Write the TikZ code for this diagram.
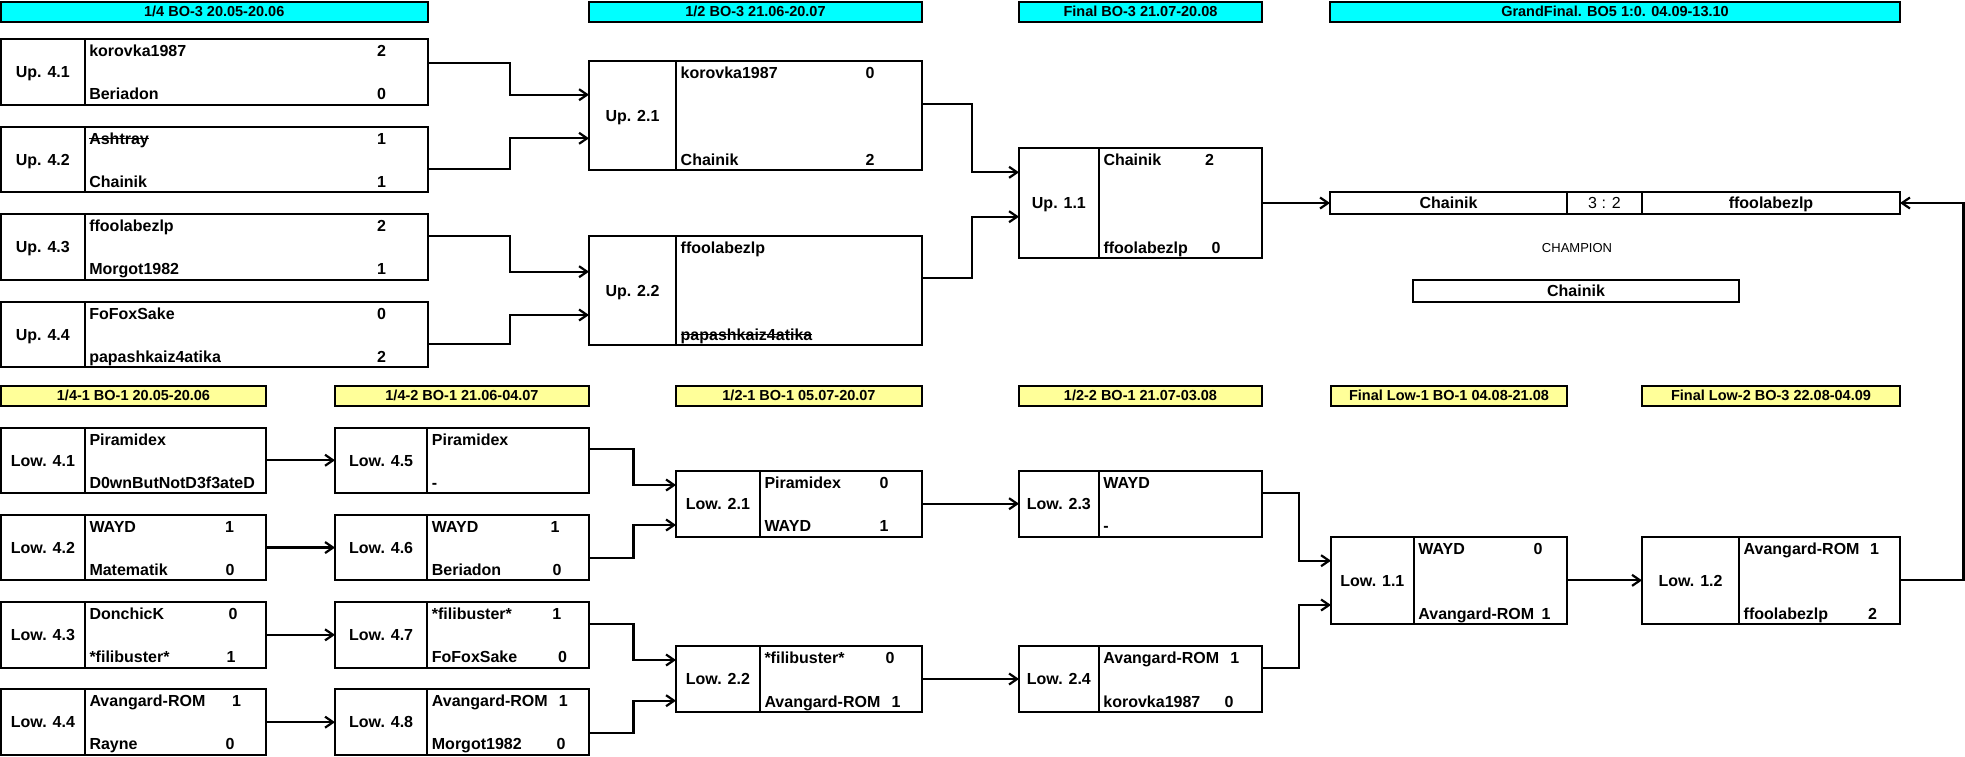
\documentclass[tikz,border=0pt]{standalone}
\usepackage{fontspec}
\setmainfont[Ligatures=CommonOff]{Liberation Sans}
\usetikzlibrary{arrows.meta}
\definecolor{hcyan}{RGB}{0,255,255}
\definecolor{hyellow}{RGB}{255,255,153}
\newcommand\nmfont{\fontsize{16}{19}\selectfont\bfseries}
\newcommand\hdfont{\fontsize{14.5}{17}\selectfont\bfseries}
\newcommand\strikename[1]{\setbox0=\hbox{#1}\rlap{\copy0}\rule[0.3em]{\wd0}{1.3pt}}
\tikzset{
  gbox/.style={draw, line width=2pt, inner sep=0pt, outer sep=0pt},
  gline/.style={line width=2pt},
  lbl/.style={font=\nmfont, inner sep=0pt, text height=11.5pt, text depth=0pt},
  nm/.style={font=\nmfont, inner sep=0pt},
  hdrbox/.style={draw, line width=2pt, inner sep=0pt, outer sep=0pt, font=\hdfont, text height=10.4pt, text depth=0pt},
  conn/.style={line width=2.2pt, -{Straight Barb[length=8pt,width=11pt]}},
}
\newcommand\game[7]{%
  \def\gname{#1}\def\gtop{#3}\def\gbot{#5}\def\gdiv{#6}%
  \node[gbox, minimum width={#4-#2}, minimum height={#5-#3}] (#1) at ({(#2+#4)/2},{(#3+#5)/2}) {};
  \draw[gline] (#6,#3) -- (#6,#5);
  \node[lbl] (#1-l) at ({(#2+#6)/2},{(#3+#5)/2}) {#7};
}
\newcommand\names[2]{%
  \node[nm, anchor=base west] (\gname-a) at (\gdiv+4.5, \gtop+17.5) {#1};
  \node[nm, anchor=base west] (\gname-b) at (\gdiv+4.5, \gbot-5) {#2};
}
\newcommand\scores[4]{%
  \node[nm, anchor=base] (\gname-sa) at (#1, \gtop+17.5) {#2};
  \node[nm, anchor=base] (\gname-sb) at (#3, \gbot-5) {#4};
}
\newcommand\link[5]{\draw[conn] (#1.east |- 0,#2) -| (#3,#4) -- (#5.west |- 0,#4);}
\newcommand\header[7]{%
  \node[hdrbox, fill=#2, minimum width={#4-#3}, minimum height={#6-#5}] (#1) at ({(#3+#4)/2},{(#5+#6)/2}) {#7};
}
\begin{document}
\begin{tikzpicture}[x=1pt,y=-1pt]
\useasboundingbox (0,0) rectangle (1965,756);
% ---------- upper headers
\header{h1}{hcyan}{1}{427.5}{1.5}{21.5}{1/4 BO-3 20.05-20.06}
\header{h2}{hcyan}{589}{922}{1.5}{21.5}{1/2 BO-3 21.06-20.07}
\header{h3}{hcyan}{1019}{1262}{1.5}{21.5}{Final BO-3 21.07-20.08}
\header{h4}{hcyan}{1330}{1900}{1.5}{21.5}{GrandFinal. BO5 1:0. 04.09-13.10}
% ---------- upper bracket
\game{u41}{1}{39}{427.5}{104.5}{84.6}{Up. 4.1}
\names{korovka1987}{Beriadon}\scores{381.5}{2}{381.5}{0}
\game{u42}{1}{126.5}{427.5}{192}{84.6}{Up. 4.2}
\names{\strikename{Ashtray}}{Chainik}\scores{381.5}{1}{381.5}{1}
\game{u43}{1}{214}{427.5}{279.5}{84.6}{Up. 4.3}
\names{ffoolabezlp}{Morgot1982}\scores{381.5}{2}{381.5}{1}
\game{u44}{1}{301.5}{427.5}{367}{84.6}{Up. 4.4}
\names{FoFoxSake}{papashkaiz4atika}\scores{381.5}{0}{381.5}{2}

\game{u21}{589}{61}{922}{170}{676}{Up. 2.1}
\names{korovka1987}{Chainik}\scores{870}{0}{870}{2}
\game{u22}{589}{236}{922}{345}{676}{Up. 2.2}
\names{ffoolabezlp}{\strikename{papashkaiz4atika}}

\game{u11}{1019}{148}{1262}{258}{1098.8}{Up. 1.1}
\names{Chainik}{ffoolabezlp}\scores{1209.5}{2}{1216}{0}

\link{u41}{62.7}{510}{94.7}{u21}
\link{u42}{169}{510}{138.3}{u21}
\link{u43}{236.3}{510}{271.7}{u22}
\link{u44}{344.3}{510}{315}{u22}
\link{u21}{104.3}{972}{172.3}{u11}
\link{u22}{278.3}{972}{216.7}{u11}

% ---------- grand final
\node[gbox, minimum width=570, minimum height=22] (gf) at (1615,203) {};
\draw[gline] (1567,192) -- (1567,214);
\draw[gline] (1642,192) -- (1642,214);
\node[lbl] (gf-a) at (1448.5,203) {Chainik};
\node[lbl, font=\fontsize{16}{19}\selectfont] (gf-s) at (1604.5,203) {3 : 2};
\node[lbl] (gf-b) at (1771,203) {ffoolabezlp};
\draw[conn] (u11.east) -- (gf.west);
\node[inner sep=0pt, font=\fontsize{13}{15}\selectfont, text height=9.3pt, text depth=0pt] (champ-t) at (1577,248.3) {CHAMPION};
\node[gbox, lbl, minimum width=326, minimum height=22] (champ) at (1576,291) {Chainik};

% ---------- lower headers
\header{y1}{hyellow}{1}{266}{385.5}{405.5}{1/4-1 BO-1 20.05-20.06}
\header{y2}{hyellow}{335}{589}{385.5}{405.5}{1/4-2 BO-1 21.06-04.07}
\header{y3}{hyellow}{676}{922}{385.5}{405.5}{1/2-1 BO-1 05.07-20.07}
\header{y4}{hyellow}{1019}{1262}{385.5}{405.5}{1/2-2 BO-1 21.07-03.08}
\header{y5}{hyellow}{1331}{1567}{385.5}{405.5}{Final Low-1 BO-1 04.08-21.08}
\header{y6}{hyellow}{1642}{1900}{385.5}{405.5}{Final Low-2 BO-3 22.08-04.09}

% ---------- lower bracket
\game{l41}{1}{427.5}{266}{493}{84.8}{Low. 4.1}
\names{Piramidex}{D0wnButNotD3f3ateD}
\game{l42}{1}{514.8}{266}{580.3}{84.8}{Low. 4.2}
\names{WAYD}{Matematik}\scores{229.5}{1}{230}{0}
\game{l43}{1}{602.1}{266}{667.6}{84.8}{Low. 4.3}
\names{DonchicK}{*filibuster*}\scores{233}{0}{231}{1}
\game{l44}{1}{689.4}{266}{754.9}{84.8}{Low. 4.4}
\names{Avangard-ROM}{Rayne}\scores{236.6}{1}{230}{0}

\game{l45}{335}{427.5}{589}{493}{427.2}{Low. 4.5}
\names{Piramidex}{-}
\game{l46}{335}{514.8}{589}{580.3}{427.2}{Low. 4.6}
\names{WAYD}{Beriadon}\scores{555}{1}{557}{0}
\game{l47}{335}{602.1}{589}{667.6}{427.2}{Low. 4.7}
\names{*filibuster*}{FoFoxSake}\scores{556.7}{1}{562.5}{0}
\game{l48}{335}{689.4}{589}{754.9}{427.2}{Low. 4.8}
\names{Avangard-ROM}{Morgot1982}\scores{563.4}{1}{561}{0}

\draw[conn] (l41.east) -- (l45.west);
\draw[conn] (l42.east) -- (l46.west);
\draw[conn] (l43.east) -- (l47.west);
\draw[conn] (l44.east) -- (l48.west);

\game{l21}{676}{470.7}{922}{536.7}{759.8}{Low. 2.1}
\names{Piramidex}{WAYD}\scores{884}{0}{884}{1}
\game{l22}{676}{646}{922}{712}{759.8}{Low. 2.2}
\names{*filibuster*}{Avangard-ROM}\scores{890}{0}{896}{1}

\link{l45}{449.3}{633.5}{485}{l21}
\link{l46}{558.3}{633.5}{525}{l21}
\link{l47}{624.3}{633.5}{660}{l22}
\link{l48}{732.7}{633.5}{700.7}{l22}

\game{l23}{1019}{470.7}{1262}{536.7}{1098.7}{Low. 2.3}
\names{WAYD}{-}
\game{l24}{1019}{646}{1262}{712}{1098.7}{Low. 2.4}
\names{Avangard-ROM}{korovka1987}\scores{1234.8}{1}{1229}{0}

\draw[conn] (l21.east) -- (l23.west);
\draw[conn] (l22.east) -- (l24.west);

\game{l11}{1331}{536.7}{1567}{624}{1413.7}{Low. 1.1}
\names{WAYD}{Avangard-ROM}\scores{1538}{0}{1546}{1}
\game{l12}{1642}{536.7}{1900}{624}{1739}{Low. 1.2}
\names{Avangard-ROM}{ffoolabezlp}\scores{1874.6}{1}{1872.5}{2}

\link{l23}{493.3}{1299}{560.7}{l11}
\link{l24}{668.3}{1299}{605}{l11}
\draw[conn] (l11.east) -- (l12.west);
\draw[conn] (l12.east) -| (1963.5,203) -- (gf.east);
\end{tikzpicture}
\end{document}
